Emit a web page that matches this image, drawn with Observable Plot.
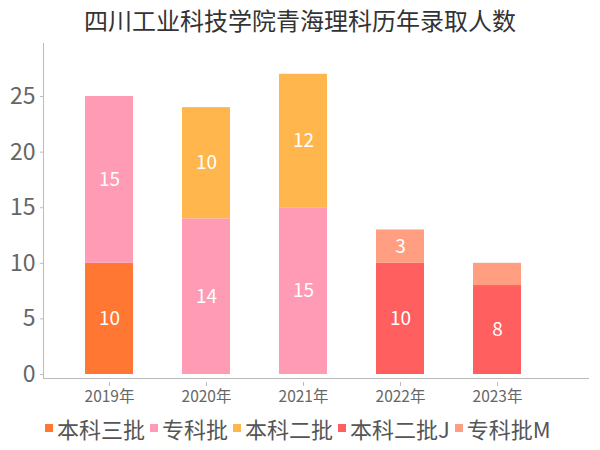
<!DOCTYPE html>
<html>
<head>
<meta charset="utf-8">
<script src="https://cdn.jsdelivr.net/npm/d3@7"></script>
<script src="https://cdn.jsdelivr.net/npm/@observablehq/plot@0.6"></script>
<style>
  body { margin: 0; width: 600px; height: 450px; background: #fff; font-family: "Noto Sans CJK SC", "Noto Sans", sans-serif; overflow: hidden; }
  #title { height: 36px; line-height: 40px; text-align: center; font-size: 24px; color: #333; }
  #legend { display: flex; justify-content: flex-start; align-items: center; padding-left: 45px; height: 40px; font-size: 22px; color: #555; }
  #legend .item { display: flex; align-items: center; margin-right: 5px; }
  #legend .sw { width: 8px; height: 8px; margin-right: 4px; }
</style>
</head>
<body>
<div id="title">四川工业科技学院青海理科历年录取人数</div>
<div id="chart"></div>
<div id="legend"></div>
<script>
const years = ["2019年", "2020年", "2021年", "2022年", "2023年"];
const seriesNames = ["本科三批", "专科批", "本科二批", "本科二批J", "专科批M"];
const colors = ["#FF7733", "#FF9BB5", "#FFB64D", "#FF5F5F", "#FF9E80"];
const benke3 = [10, 0, 0, 0, 0];
const zhuanke = [15, 14, 15, 0, 0];
const benke2 = [0, 10, 12, 0, 0];
const benke2J = [0, 0, 0, 10, 8];
const zhuankeM = [0, 0, 0, 3, 2];
const yTicks = [0, 5, 10, 15, 20, 25];

const allSeries = [benke3, zhuanke, benke2, benke2J, zhuankeM];
const rows = [];
allSeries.forEach((vals, si) => {
  vals.forEach((v, yi) => {
    if (v > 0) rows.push({year: years[yi], series: seriesNames[si], value: v});
  });
});

const stackOpts = {x: "year", y: "value", z: "series", order: seriesNames};

const plot = Plot.plot({
  width: 600,
  height: 372,
  marginLeft: 43,
  marginRight: 12,
  marginTop: 7,
  marginBottom: 30,
  style: {fontFamily: "'Noto Sans CJK SC', 'Noto Sans', sans-serif", background: "#fff"},
  x: {domain: years, range: [46, 588], paddingInner: 0.508, paddingOuter: 0.534, align: 0.365, label: null},
  y: {domain: [0, 29.77], range: [338, 7], label: null},
  color: {domain: seriesNames, range: colors},
  marks: [
    Plot.frame({anchor: "left", stroke: "#bbb"}),
    Plot.frame({anchor: "bottom", stroke: "#bbb"}),
    Plot.axisY({ticks: yTicks, tickSize: 3, tickPadding: 5, stroke: "#bbb", fontSize: 23, fill: "#666", label: null, tickFormat: d => String(d)}),
    Plot.axisX({tickSize: 4, tickPadding: 4, stroke: "#bbb", fontSize: 15.5, fill: "#666", label: null, dy: 4}),
    Plot.barY(rows, Plot.stackY({...stackOpts, fill: "series"})),
    Plot.text(rows.filter(d => d.value >= 3), Plot.stackY({...stackOpts, y: "value", text: d => String(d.value), fill: "white", fontSize: 19})),
  ]
});
document.getElementById("chart").appendChild(plot);

const legend = document.getElementById("legend");
seriesNames.forEach((name, i) => {
  const item = document.createElement("div");
  item.className = "item";
  const sw = document.createElement("div");
  sw.className = "sw";
  sw.style.background = colors[i];
  const label = document.createElement("span");
  label.textContent = name;
  item.appendChild(sw);
  item.appendChild(label);
  legend.appendChild(item);
});
</script>
</body>
</html>
